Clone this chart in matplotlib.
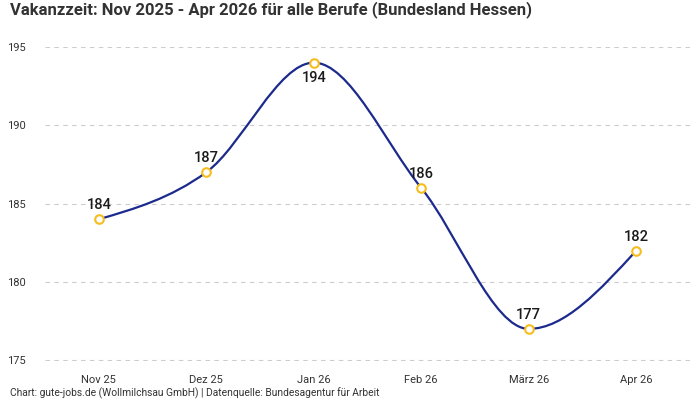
import numpy as np
import matplotlib
matplotlib.use("Agg")
import matplotlib.pyplot as plt
from matplotlib.path import Path
from matplotlib.patches import PathPatch

plt.rcParams["font.family"] = ["Roboto", "DejaVu Sans"]

months = ["Nov 25", "Dez 25", "Jan 26", "Feb 26", "März 26", "Apr 26"]
values = [184, 187, 194, 186, 177, 182]
label_below = [False, False, True, False, False, False]

title = "Vakanzzeit: Nov 2025 - Apr 2026 für alle Berufe (Bundesland Hessen)"
footer = "Chart: gute-jobs.de (Wollmilchsau GmbH) | Datenquelle: Bundesagentur für Arbeit"


def monotone_path(xs, ys):
    # d3 curveMonotoneX as cubic bezier segments
    xs = np.asarray(xs, float)
    ys = np.asarray(ys, float)
    n = len(xs)
    h = np.diff(xs)
    s = np.diff(ys) / h
    t = np.zeros(n)
    for i in range(1, n - 1):
        p = (s[i - 1] * h[i] + s[i] * h[i - 1]) / (h[i - 1] + h[i])
        t[i] = (np.sign(s[i - 1]) + np.sign(s[i])) * min(abs(s[i - 1]), abs(s[i]), 0.5 * abs(p))
    t[0] = (3 * s[0] - t[1]) / 2
    t[-1] = (3 * s[-1] - t[-2]) / 2
    verts = [(xs[0], ys[0])]
    codes = [Path.MOVETO]
    for i in range(n - 1):
        dx = h[i] / 3
        verts += [(xs[i] + dx, ys[i] + dx * t[i]),
                  (xs[i + 1] - dx, ys[i + 1] - dx * t[i + 1]),
                  (xs[i + 1], ys[i + 1])]
        codes += [Path.CURVE4] * 3
    return Path(verts, codes)


fig = plt.figure(figsize=(7, 4), dpi=100, facecolor="white")
ax = fig.add_axes([45 / 700, 39 / 400, 645 / 700, 314 / 400])

x = np.arange(len(months))
ax.add_patch(PathPatch(monotone_path(x, values), facecolor="none",
                       edgecolor="#1b2a8c", linewidth=1.6, zorder=3))
ax.scatter(x, values, s=38, facecolor="white", edgecolor="#f7bd1c",
           linewidth=1.5, zorder=4, clip_on=False)

for xi, v, below in zip(x, values, label_below):
    ax.annotate(str(v), (xi, v), xytext=(0, -6 if below else 5),
                textcoords="offset points", ha="center",
                va="top" if below else "bottom",
                fontsize=10.5, fontweight="medium", color="#1a1a1a")

ax.set_xlim(-0.5, 5.5)
ax.set_ylim(174.95, 195)
ax.set_yticks([175, 180, 185, 190, 195])
ax.set_xticks(x, months)
ax.tick_params(axis="both", length=0, labelsize=8, colors="#333333")
ax.tick_params(axis="x", pad=10)
ax.tick_params(axis="y", pad=14)
ax.grid(axis="y", linestyle=(0, (4, 4)), color="#cccccc", linewidth=0.8)
ax.set_axisbelow(True)
for sp in ax.spines.values():
    sp.set_visible(False)

fig.text(10 / 700, 1 - 10 / 400, title, fontsize=12, fontweight="bold",
         color="#333333", va="center", ha="left")
fig.text(10 / 700, 1 - 393 / 400, footer, fontsize=7.4, color="#333333",
         va="center", ha="left")

fig.savefig("out.png", dpi=100)
